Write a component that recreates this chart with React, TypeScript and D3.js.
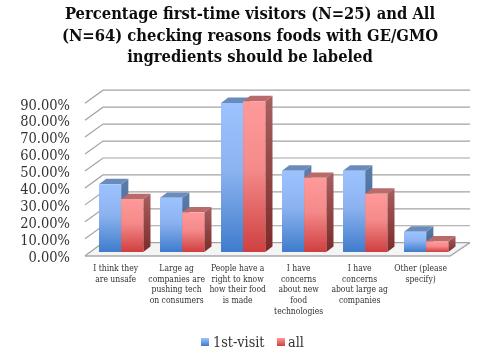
import React from "react";
import * as d3 from "d3";

const categories = [
  ["I think they", "are unsafe"],
  ["Large ag", "companies are", "pushing tech", "on consumers"],
  ["People have a", "right to know", "how their food", "is made"],
  ["I have", "concerns", "about new", "food", "technologies"],
  ["I have", "concerns", "about large ag", "companies"],
  ["Other (please", "specify)"],
];
const ids = ["a", "b", "c", "d", "e", "f"];
const firstVisit = [40, 32, 88, 48, 48, 12];
const all = [31.25, 23.4, 89, 43.75, 34.4, 6.25];
const ticks = [0, 10, 20, 30, 40, 50, 60, 70, 80, 90];
const titleLines = [
  "Percentage first-time visitors (N=25) and All",
  "(N=64) checking reasons foods with GE/GMO",
  "ingredients should be labeled",
];
const serif = "'DejaVu Serif Condensed','DejaVu Serif',serif";

const y = d3.scaleLinear().domain([0, 90]).range([252, 99.5]);
const x = d3.scaleBand().domain(ids).range([99, 448.3]).paddingInner(0.274).paddingOuter(0);
const dx = 7.2;
const dy = -5.4;

function Bar({ x0, w, v, kind }: { x0: number; w: number; v: number; kind: string }) {
  const t = y(v);
  const b = y(0);
  const front = d3.path();
  front.rect(x0, t, w, b - t);
  const top = `M${x0},${t}L${x0 + dx},${t + dy}L${x0 + w + dx},${t + dy}L${x0 + w},${t}Z`;
  const side = `M${x0 + w},${t}L${x0 + w + dx},${t + dy}L${x0 + w + dx},${b + dy}L${x0 + w},${b}Z`;
  return (
    <g>
      <path d={side} fill={`url(#${kind}Side)`} />
      <path d={top} fill={kind === "blue" ? "#6b8cbc" : "#b96a6a"} />
      <path d={front.toString()} fill={`url(#${kind}Front)`} />
    </g>
  );
}

export default function App() {
  const w = x.bandwidth() / 2;
  const backX0 = 103;
  const backX1 = 470;
  const frontX0 = 85;
  const frontX1 = 450;
  const shift = y(0) - 242.7;
  return (
    <svg width={500} height={356} style={{ position: "absolute", left: 0, top: 0, background: "#fff" }}>
      <defs>
        <filter id="soft" x="0" y="0" width="1" height="1" filterUnits="objectBoundingBox">
          <feGaussianBlur stdDeviation="0.35" />
        </filter>
        <linearGradient id="blueFront" x1="0" y1="0" x2="0" y2="1">
          <stop offset="0" stopColor="#9dc3ff" />
          <stop offset="0.45" stopColor="#8cb3f0" />
          <stop offset="1" stopColor="#3f7ccb" />
        </linearGradient>
        <linearGradient id="redFront" x1="0" y1="0" x2="0" y2="1">
          <stop offset="0" stopColor="#ff9a9a" />
          <stop offset="0.45" stopColor="#f58a8a" />
          <stop offset="1" stopColor="#cf3f3f" />
        </linearGradient>
        <linearGradient id="blueSide" x1="0" y1="0" x2="0" y2="1">
          <stop offset="0" stopColor="#5f7ea8" />
          <stop offset="1" stopColor="#2f5c94" />
        </linearGradient>
        <linearGradient id="redSide" x1="0" y1="0" x2="0" y2="1">
          <stop offset="0" stopColor="#a86060" />
          <stop offset="1" stopColor="#7d2a2a" />
        </linearGradient>
        <linearGradient id="blueKey" x1="0" y1="0" x2="0" y2="1">
          <stop offset="0" stopColor="#9dc3ff" />
          <stop offset="1" stopColor="#3f7ccb" />
        </linearGradient>
        <linearGradient id="redKey" x1="0" y1="0" x2="0" y2="1">
          <stop offset="0" stopColor="#ff9a9a" />
          <stop offset="1" stopColor="#cf3f3f" />
        </linearGradient>
      </defs>

      <rect width={500} height={356} fill="#fff" />
      <g filter="url(#soft)">
        <g fontFamily={serif} fontWeight="bold" fontSize={16.4} fill="#111" textAnchor="middle">
          {titleLines.map((l, i) => (
            <text key={i} x={250} y={19 + i * 21.6}>{l}</text>
          ))}
        </g>

        <path
          d={`M${frontX0},${y(0) + 4}L${backX0},${y(0) - shift}L${backX1},${y(0) - shift}L${frontX1},${y(0) + 4}Z`}
          fill="#f4f4f4"
        />
        <path
          d={`M${frontX0},${y(0) + 4}L${frontX1},${y(0) + 4}L${backX1},${y(0) - shift}`}
          fill="none"
          stroke="#a8a8a8"
          strokeWidth={1.4}
        />

        {ticks.map((t) => {
          const by = y(t) - shift;
          return (
            <path
              key={t}
              d={`M${frontX0},${by + 13}L${backX0},${by}L${backX1},${by}`}
              fill="none"
              stroke="#a3a3a3"
              strokeWidth={1.2}
            />
          );
        })}

        {ticks.map((t) => (
          <text key={t} x={70} y={y(t) + 10} textAnchor="end" fontFamily={serif} fontSize={14.5} fill="#333">
            {t.toFixed(2)}%
          </text>
        ))}

        {ids.map((id, i) => (
          <g key={id}>
            <Bar x0={x(id)!} w={w} v={firstVisit[i]} kind="blue" />
            <Bar x0={x(id)! + w} w={w} v={all[i]} kind="red" />
          </g>
        ))}

        {ids.map((id, i) => (
          <text key={id} textAnchor="middle" fontFamily={serif} fontSize={8.5} fill="#333">
            {categories[i].map((l, j) => (
              <tspan key={j} x={x(id)! + w - 5.5} y={271 + j * 10.7}>{l}</tspan>
            ))}
          </text>
        ))}

        <rect x={201} y={338} width={8} height={8} fill="url(#blueKey)" />
        <text x={213} y={347} fontFamily={serif} fontSize={14.3} fill="#333">1st-visit</text>
        <rect x={277} y={338} width={8} height={8} fill="url(#redKey)" />
        <text x={288} y={347} fontFamily={serif} fontSize={14.3} fill="#333">all</text>
      </g>
    </svg>
  );
}
